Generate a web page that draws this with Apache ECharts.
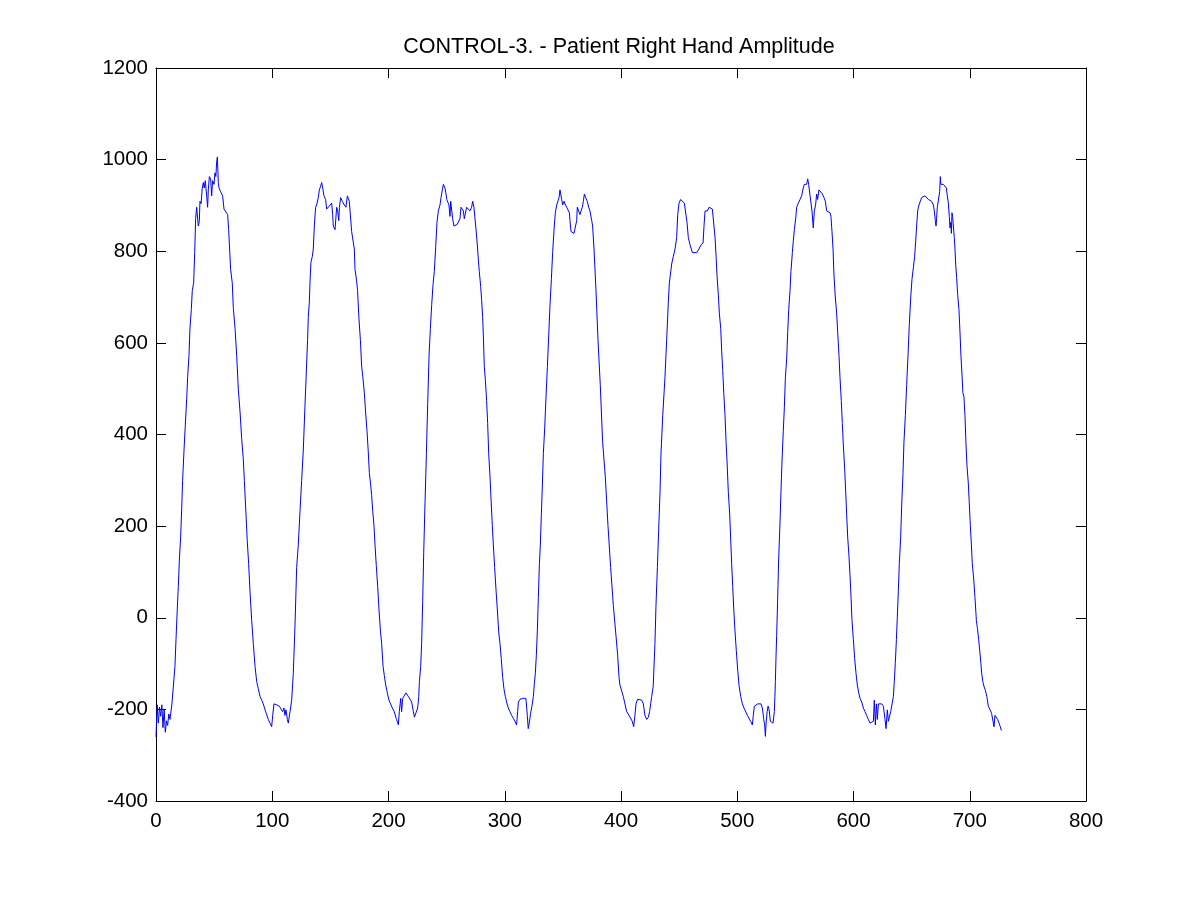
<!DOCTYPE html>
<html>
<head>
<meta charset="utf-8">
<script src="https://cdn.jsdelivr.net/npm/echarts@6/dist/echarts.min.js"></script>
<style>html,body{margin:0;padding:0;background:#fff;}#chart{width:1200px;height:900px;}</style>
</head>
<body>
<div id="chart"></div>
<script>
const chartTitle = "CONTROL-3. - Patient Right Hand Amplitude";
const xTicks = [0, 100, 200, 300, 400, 500, 600, 700, 800];
const yTicks = [-400, -200, 0, 200, 400, 600, 800, 1000, 1200];

const cycle1 = [[0,-260],[1,-190],[2,-230],[3,-195],[4,-215],[5,-190],[6,-240],[7,-200],[8,-250],[9,-225],[10,-235],[11,-210],[12,-222],[13.5,-193],[14.9,-151],[16.3,-106],[17.2,-48],[18.3,19],[19.2,68],[20.1,126],[21.2,176],[22.1,238],[22.9,300],[24.1,366],[25.2,420],[26.4,478],[27.2,524],[28.4,573],[29.2,631],[30.4,673],[31.2,714],[32.4,731],[33.3,797],[34.1,872],[35,896],[36.4,855],[37.3,867],[37.8,909],[38.8,904],[39.8,938],[40.7,950],[41.5,938],[42.4,954],[43.6,921],[44.4,896],[45,934],[45.9,963],[47,958],[47.9,921],[48.7,954],[49.9,946],[50.7,971],[51.5,963],[52.2,996],[52.8,1006],[53.6,950],[54.2,938],[55.6,930],[57.3,921],[58.5,892],[60.2,888],[61.6,880],[62.5,847],[64.2,760],[65.6,731],[66.5,677],[68,631],[69.4,573],[70.8,499],[72.3,449],[73.7,391],[75.1,346],[76,300],[77.1,242],[78.5,168],[79.7,118],[80.9,56],[82.3,-6],[83.7,-56],[85.2,-106],[86.6,-139],[88,-155],[89.5,-172],[90.9,-180],[92.3,-188],[93.8,-201],[95.2,-205],[96.6,-222],[98.1,-230],[99.5,-238],[100.4,-213],[101.5,-188],[103.8,-190],[106.1,-193],[107.5,-197],[108.9,-205],[110.1,-197],[110.9,-213],[111.8,-201],[113,-222],[113.8,-230],[115.3,-205],[116.7,-180]];

const cycle2 = [[118.1,-122],[119.6,-14],[121,110],[122.4,159],[123.9,234],[125.3,300],[126.7,366],[128.2,466],[129.1,524],[130.4,607],[131,656],[131.9,689],[132.5,735],[133.3,776],[134.5,789],[135.3,805],[136.2,855],[137.3,896],[138.2,901],[139.6,917],[140.5,934],[141.6,942],[142.5,950],[143.4,938],[144.5,921],[145.9,913],[146.8,892],[148.8,898],[151.1,905],[152,880],[152.5,855],[154,847],[154.8,847],[155.4,896],[156.3,888],[157.2,867],[157.8,896],[158.8,917],[160.3,909],[162,901],[163.4,896],[164.6,921],[165.4,917],[166.3,909],[167.3,909],[168.3,843],[169.7,839],[170.6,805],[171.2,760],[172.6,735],[173.4,714],[174.6,652],[175.8,607],[176.9,549],[178,524],[179.2,491],[180.3,449],[181.5,408],[182.6,362],[183.5,317],[184.6,292],[185.5,267],[186.4,234],[187.5,201],[188.4,159],[189.5,114],[190.7,68],[191.8,19],[193,-27],[194.1,-56],[195.3,-106],[196.4,-126],[197.6,-147],[199,-164],[200.4,-180],[201.8,-188],[203.3,-197],[205,-205],[206.2,-217],[207,-222],[208.5,-234],[209.3,-205],[210.5,-176],[211.3,-205],[212.2,-176],[213.6,-172],[215,-164],[216.2,-160],[217.1,-172],[218.5,-172],[219.9,-184],[221.4,-205],[222.3,-217],[223.7,-213],[225.1,-197],[226,-172],[226.6,-139],[227.7,-106],[228.5,-56],[229.4,35],[230.3,143]];

const cycle3 = [[231.4,250],[232.6,358],[233.7,466],[234.9,573],[236,631],[237.1,681],[238.3,727],[239.4,756],[240.6,809],[241.7,863],[242.9,888],[244.3,901],[245.2,917],[246.3,934],[247.2,946],[248.1,950],[248.6,938],[249.5,925],[250.1,913],[251,917],[252,901],[252.9,876],[253.5,909],[254.3,905],[255.2,871],[256.3,855],[257.8,857],[259.2,859],[260.6,859],[261.5,871],[262.4,896],[263.5,896],[264.4,888],[265.2,871],[266,875],[267.2,896],[268.6,892],[270.1,888],[271.5,896],[272.4,909],[273.5,896],[274.4,871],[275.3,847],[276.4,814],[277.3,781],[278.1,756],[279.3,723],[280.1,694],[281,656],[281.6,615],[282.4,549],[283.3,520],[284.4,474],[285.3,424],[286.2,358],[287.3,309],[288.2,259],[289.3,201],[290.2,159],[291.3,110],[292.5,60],[293.6,19],[294.8,-31],[295.9,-56],[297,-89],[298.2,-130],[299.3,-155],[300.5,-172],[301.6,-184],[303,-197],[304.5,-205],[305.9,-213],[307.4,-217],[308.8,-226],[310.2,-234],[311.1,-205],[311.7,-184],[313.1,-178],[314.5,-176],[316,-176],[318.2,-176],[319.4,-213],[320.2,-242],[321.1,-230],[322.2,-209],[323.4,-193],[324.6,-172],[325.5,-143],[326.3,-122],[327.2,-81],[328,-31],[328.9,44],[329.8,118]];

const cycle4 = [[330.6,159],[331.5,226],[332.4,292],[333.2,358],[334.4,416],[335.5,482],[336.7,549],[337.8,615],[338.9,681],[340.1,739],[341.2,797],[342.4,847],[343.5,884],[344.7,901],[345.8,905],[346.7,917],[347.5,934],[348.4,938],[349,913],[349.8,901],[351,909],[352.2,901],[353.3,896],[354.7,896],[355.6,884],[356.1,867],[357,843],[358.2,839],[359.6,839],[361,843],[361.9,867],[362.4,896],[363.9,896],[364.7,880],[365.6,888],[366.7,896],[367.6,909],[368.5,925],[369.6,917],[371,909],[372.2,896],[373.3,888],[374.8,867],[375.6,855],[376.8,805],[378.5,714],[380.2,607],[382.2,507],[384.2,383],[386.5,308],[388.8,201],[391.1,110],[393.4,27],[395.7,-40],[397.1,-81],[398.3,-130],[399.1,-147],[400.6,-151],[402,-172],[403.4,-188],[404.9,-205],[406.9,-213],[408.6,-217],[409.7,-226],[410.9,-238],[412,-213],[412.9,-188],[414.3,-178],[415.8,-176],[417.8,-180],[419.2,-188],[420.6,-213],[422.1,-222],[423.5,-217],[424.6,-205],[425.5,-188],[426.4,-172],[427.7,-150]];

const cycle5 = [[429.2,-56],[430.1,27],[431.3,110],[432.4,192],[433.6,275],[434.4,358],[435.9,441],[437.8,524],[439.3,607],[440.7,689],[441.6,731],[443.6,772],[445,789],[446.5,805],[447.9,830],[448.8,880],[449.9,905],[451.3,913],[452.8,909],[454.5,905],[455.6,901],[456.8,863],[457.9,830],[459.4,814],[461.4,797],[463.1,793],[465.1,797],[467.1,805],[468.8,814],[470.6,818],[471.4,855],[472.3,888],[473.2,892],[474.3,888],[475.7,896],[477.2,896],[478.6,892],[480,888],[480.9,830],[481.8,789],[482.6,747],[483.7,706],[484.6,665],[485.8,631],[486.6,582],[487.5,540],[488.4,491],[489.5,441],[490.4,383],[491.2,342],[492.3,275],[493.5,226],[494.4,168],[495.2,118],[496.1,68],[497,19],[498.1,-31],[499.2,-72],[500.4,-114],[501.5,-147],[503,-172],[504.4,-188],[505.8,-197],[507.3,-201],[508.7,-213],[510.1,-217],[511.5,-226],[513,-234],[513.8,-213],[514.7,-193],[516.1,-197],[517.6,-188],[519,-184],[520.4,-188],[521.6,-197],[522.8,-222],[523.6,-234],[524.2,-259],[524.8,-230],[525.7,-205],[526.5,-193],[527.4,-201],[528.5,-226],[529.6,-230],[530.8,-230],[531.9,-205]];

const cycle6 = [[532.4,-172],[532.8,-139],[533.3,-89],[533.9,-39],[534.7,35],[535.6,126],[536.8,209],[537.6,275],[538.5,342],[539.6,408],[540.5,458],[541.4,524],[542.5,565],[543.4,623],[544.3,673],[545.4,714],[546.2,756],[547.4,797],[548.2,822],[549.1,847],[550.3,872],[551.1,896],[552.5,905],[554,913],[555.4,921],[556.8,938],[557.7,946],[558.8,942],[559.7,946],[560.6,958],[561.4,946],[562,934],[563.4,930],[564.3,888],[565.4,851],[566.3,888],[567.4,901],[568.3,925],[569.1,913],[570.3,934],[571.7,930],[573.2,925],[574.6,917],[575.8,909],[576.9,888],[577.8,884],[578.6,892],[579.8,884],[580.6,876],[581.5,843],[582.4,805],[583.2,748],[584.4,698],[585.5,665],[586.4,623],[587.5,573],[588.4,524],[589.5,474],[590.4,424],[591.3,375],[592.4,325],[593.3,275],[594.1,226],[595,176],[596.1,135],[597,93],[597.9,44],[598.7,-6],[599.9,-48],[601,-89],[602.2,-122],[603.3,-147],[604.5,-164],[605.6,-176],[607.1,-184],[608.5,-197],[609.9,-205],[611.3,-213],[612.8,-222],[614.2,-230],[615.6,-234],[617.1,-226],[617.9,-180],[618.8,-234],[619.7,-188],[620.5,-222],[621.4,-188],[622.8,-184],[624.3,-188],[625.7,-193],[627.1,-222],[628,-242],[629.1,-201],[630,-226],[630.9,-226],[632,-205],[633.2,-188],[634.3,-172],[635.1,-139],[636,-97]];

const cycle7 = [[636.9,-48],[637.7,2],[638.6,60],[639.4,118],[640.6,176],[641.4,242],[642.6,317],[643.4,383],[644.6,441],[645.7,507],[646.9,573],[648,640],[649.2,698],[650.3,739],[651.5,764],[652.6,789],[653.5,822],[654.3,855],[655.2,888],[656.3,901],[657.5,909],[658.6,917],[660.1,921],[661.5,921],[662.9,917],[664.4,913],[665.8,909],[667.2,909],[668.7,901],[669.5,888],[670.4,867],[671,855],[671.5,872],[672.1,896],[673.5,896],[674.1,930],[674.7,963],[675.2,946],[675.8,950],[677.3,946],[678.7,942],[679.9,938],[680.7,921],[681.6,905],[682.4,876],[683,851],[683.6,863],[684.2,839],[684.7,884],[685.3,876],[685.9,855],[686.7,830],[687.3,805],[687.9,772],[688.7,743],[689.6,706],[690.7,673],[691.6,623],[692.4,573],[693.3,532],[694.1,491],[695,482],[695.9,441],[696.7,383],[697.6,333],[698.8,292],[699.6,250],[700.5,201],[701.4,159],[702.2,118],[703.4,85],[704.5,44],[705.7,-6],[706.6,-23],[707.7,-48],[708.6,-72],[709.5,-97],[710.3,-122],[711.2,-139],[712.4,-151],[713.5,-159],[714.7,-172],[716,-193],[717.5,-201],[718.8,-209],[720,-213],[720.9,-238],[721.7,-213],[722.9,-217],[724,-222],[725.2,-230],[726.3,-238],[727.2,-246]];

const amplitude = [].concat(cycle1, cycle2, cycle3, cycle4, cycle5, cycle6, cycle7);

const FONT = "'Liberation Sans', Arial, Helvetica, sans-serif";
const xMin = xTicks[0], xMax = xTicks[xTicks.length - 1], xStep = xTicks[1] - xTicks[0];
const yMin = yTicks[0], yMax = yTicks[yTicks.length - 1], yStep = yTicks[1] - yTicks[0];

function axisBase(show, margin) {
  return {
    axisLine: { show: true, onZero: false, lineStyle: { color: '#000', width: 1 } },
    axisTick: { show: true, inside: true, length: 10, lineStyle: { color: '#000', width: 1 } },
    splitLine: { show: false },
    axisLabel: { show: show, color: '#000', fontFamily: FONT, fontSize: 20.5, margin: margin,
                 formatter: function (v) { return String(v); } }
  };
}

const chart = echarts.init(document.getElementById('chart'), null, { renderer: 'canvas' });
chart.setOption({
  animation: false,
  backgroundColor: '#fff',
  title: {
    text: chartTitle,
    left: 614,
    top: 31,
    textAlign: 'center',
    textStyle: { color: '#000', fontFamily: FONT, fontSize: 21.5, fontWeight: 'normal' }
  },
  grid: { left: 156, top: 68, width: 930, height: 733, containLabel: false },
  xAxis: [
    Object.assign(axisBase(true, 10), { type: 'value', position: 'bottom', min: xMin, max: xMax, interval: xStep }),
    Object.assign(axisBase(false, 8), { type: 'value', position: 'top', min: xMin, max: xMax, interval: xStep })
  ],
  yAxis: [
    Object.assign(axisBase(true, 8), { type: 'value', position: 'left', min: yMin, max: yMax, interval: yStep }),
    Object.assign(axisBase(false, 8), { type: 'value', position: 'right', min: yMin, max: yMax, interval: yStep })
  ],
  series: [{
    name: 'Amplitude',
    type: 'line',
    xAxisIndex: 0,
    yAxisIndex: 0,
    data: amplitude,
    showSymbol: false,
    symbol: 'none',
    lineStyle: { color: '#0000ff', width: 1 },
    itemStyle: { color: '#0000ff' }
  }]
});
</script>
</body>
</html>
